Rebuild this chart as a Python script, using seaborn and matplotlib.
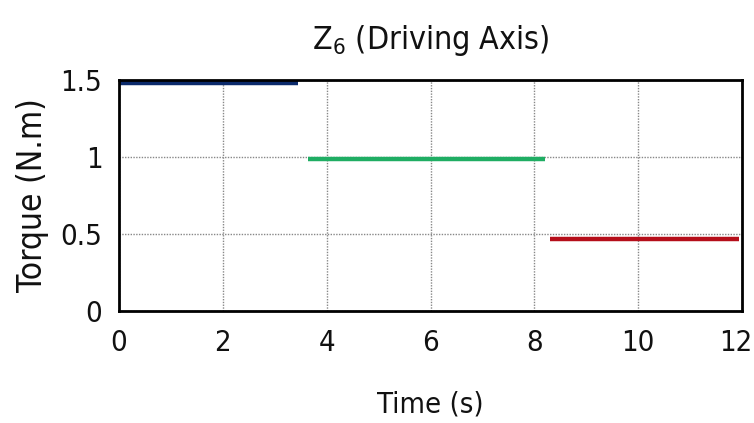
import matplotlib
matplotlib.use("Agg")
import matplotlib.pyplot as plt
import matplotlib.transforms as mtransforms
import seaborn as sns
import pandas as pd

# Data
segments = ["seg1", "seg2", "seg3"]
seg_start = [0.0, 3.65, 8.3]
seg_end = [3.45, 8.2, 11.95]
seg_torque = [1.48, 0.985, 0.47]
seg_colors = ["#0b2a6b", "#1fad63", "#b50e1a"]

x_ticks = [0, 2, 4, 6, 8, 10, 12]
y_ticks = [0, 0.5, 1, 1.5]
y_tick_labels = ["0", "0.5", "1", "1.5"]

rows = []
for name, s, e, v in zip(segments, seg_start, seg_end, seg_torque):
    rows.append({"seg": name, "time": s, "torque": v})
    rows.append({"seg": name, "time": e, "torque": v})
df = pd.DataFrame(rows)

sns.set_style("white")
plt.rcParams["font.family"] = ["DejaVu Sans"]
plt.rcParams["font.stretch"] = "condensed"
plt.rcParams["mathtext.fontset"] = "custom"
plt.rcParams["mathtext.rm"] = "DejaVu Sans:stretch=condensed"

fig = plt.figure(figsize=(7.54, 4.23), dpi=100)
ax = fig.add_axes([119 / 754, 1 - 311 / 423, (742 - 119) / 754, (311 - 80) / 423])

sns.lineplot(data=df, x="time", y="torque", hue="seg", palette=seg_colors,
             estimator=None, units="seg", linewidth=3.2, legend=False, ax=ax,
             solid_capstyle="butt")

ax.set_xlim(0, 12)
ax.set_ylim(0, 1.5)
ax.set_xticks(x_ticks)
ax.set_yticks(y_ticks)
ax.set_yticklabels(y_tick_labels)
ax.grid(True, color="#888888", linestyle=(0, (1, 1)), linewidth=1.0)
for sp in ax.spines.values():
    sp.set_color("black")
    sp.set_linewidth(2)
ax.tick_params(axis="both", labelsize=21, length=0, colors="#111111")
ax.tick_params(axis="x", pad=13)
ax.tick_params(axis="y", pad=12)

# nudge the last x tick label left so it stays inside the figure
last = ax.get_xticklabels()[-1]
last.set_transform(last.get_transform() +
                   mtransforms.ScaledTranslation(-6 / 100, 0, fig.dpi_scale_trans))

ax.set_xlabel("Time (s)", fontsize=21, labelpad=24, color="#111111")
ax.set_ylabel("Torque (N.m)", fontsize=24, labelpad=8, color="#111111")
ax.set_title(r"Z$_{\mathregular{6}}$ (Driving Axis)", fontsize=23, pad=22, color="#111111")

fig.savefig("out.png", dpi=100)
